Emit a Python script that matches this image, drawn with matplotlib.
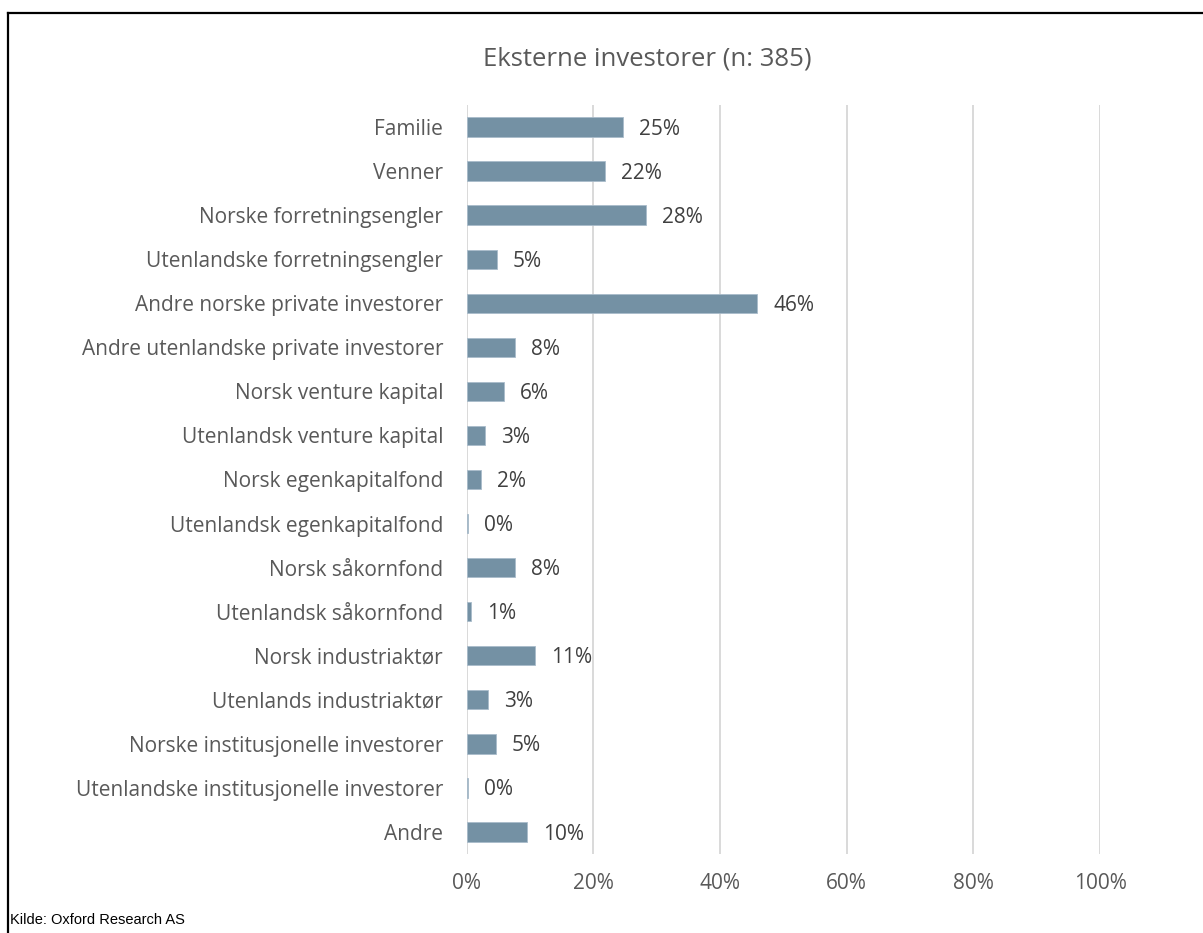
import matplotlib.pyplot as plt
from matplotlib.lines import Line2D

# ----------------------------------------------
# Data (share in percent)
categories = [
    'Familie',
    'Venner',
    'Norske forretningsengler',
    'Utenlandske forretningsengler',
    'Andre norske private investorer',
    'Andre utenlandske private investorer',
    'Norsk venture kapital',
    'Utenlandsk venture kapital',
    'Norsk egenkapitalfond',
    'Utenlandsk egenkapitalfond',
    'Norsk såkornfond',
    'Utenlandsk såkornfond',
    'Norsk industriaktør',
    'Utenlands industriaktør',
    'Norske institusjonelle investorer',
    'Utenlandske institusjonelle investorer',
    'Andre',
]
shares = [24.7, 21.8, 28.3, 4.8, 45.9, 7.7, 5.9, 2.9, 2.3, 0.2,
          7.6, 0.7, 10.8, 3.3, 4.6, 0.2, 9.6]
x_ticks = [0, 20, 40, 60, 80, 100]

title = 'Eksterne investorer (n: 385)'
source = 'Kilde: Oxford Research AS'

# ----------------------------------------------
W, H = 1203, 933
plt.rcParams['font.family'] = ['Open Sans', 'DejaVu Sans']

fig = plt.figure(figsize=(W / 100, H / 100), dpi=100)
ax = fig.add_axes([466.7 / W, 1 - 854 / H, 633.3 / W, (854 - 105) / H])

bar_color = '#7491a4'
ypos = list(range(len(categories)))
ax.barh(ypos, shares, height=0.44, color=bar_color, edgecolor='#a9bccb',
        linewidth=0.6, zorder=3)

for y, v in zip(ypos, shares):
    ax.annotate(f'{v:.0f}%', (v, y), xytext=(11.5, -1.5), textcoords='offset points',
                va='center', ha='left', fontsize=15, color='#404040')

ax.set_xlim(0, 100)
ax.set_ylim(len(categories) - 0.5, -0.5)
ax.set_xticks(x_ticks)
ax.set_xticklabels([f'{t}%' for t in x_ticks])
ax.set_yticks(ypos)
ax.set_yticklabels(categories)
ax.tick_params(axis='y', length=0, pad=17, labelsize=15, labelcolor='#595959')
ax.tick_params(axis='x', length=0, pad=14, labelsize=15, labelcolor='#595959')

ax.grid(axis='x', color='#d9d9d9', linewidth=1.4, zorder=0)
ax.set_axisbelow(True)
for s in ax.spines.values():
    s.set_visible(False)

fig.text(647 / W, 1 - 59 / H, title, ha='center', va='center',
         fontsize=18.5, color='#595959')
fig.text(10 / W, 1 - 920 / H, source, ha='left', va='center', fontsize=10.5,
         color='black', family=['Liberation Sans Narrow', 'Liberation Sans'])

# frame lines (top and left only)
fig.add_artist(Line2D([8 / W, 1], [1 - 13 / H, 1 - 13 / H], transform=fig.transFigure,
                      color='black', linewidth=1.6))
fig.add_artist(Line2D([8 / W, 8 / W], [1 - 13 / H, 0], transform=fig.transFigure,
                      color='black', linewidth=1.6))

fig.savefig('out.png', dpi=100)
